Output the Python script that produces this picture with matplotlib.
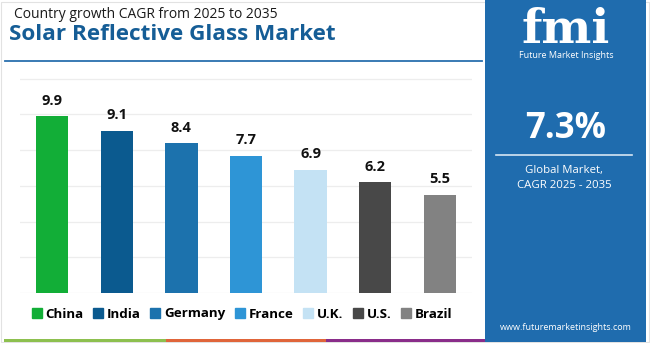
import matplotlib
matplotlib.use("Agg")
import matplotlib.pyplot as plt
from matplotlib.patches import Rectangle
from matplotlib.lines import Line2D

countries = ["China", "India", "Germany", "France", "U.K.", "U.S.", "Brazil"]
cagr = [9.9, 9.1, 8.4, 7.7, 6.9, 6.2, 5.5]
colors = ["#12AE37", "#0B5A8F", "#1C72AD", "#2E95D6", "#C4E2F4", "#484848", "#828282"]
global_cagr = "7.3%"

plt.rcParams['font.family'] = ['Open Sans', 'DejaVu Sans']

W, H = 650, 343
fig = plt.figure(figsize=(6.5, 3.43), dpi=100)
fig.patch.set_facecolor("white")

def fx(x): return x / W
def fy(y): return 1 - y / H

# light border
fig.add_artist(Rectangle((fx(1), fy(342)), fx(648), 340 / H, transform=fig.transFigure,
                         fill=False, edgecolor="#E2E2E2", lw=0.8))

ax = fig.add_axes([fx(20), fy(293), fx(452), 216 / H])
x = range(len(countries))
bars = ax.bar(x, cagr, width=0.5, color=colors, zorder=3)
ax.set_xlim(-0.5, 6.5)
ax.set_ylim(0, 12.1)
ax.set_yticks([0, 2, 4, 6, 8, 10, 12])
ax.grid(axis="y", color="#EDEDED", lw=0.9, zorder=0)
ax.set_xticks([])
ax.tick_params(left=False, labelleft=False)
for s in ax.spines.values():
    s.set_visible(False)
for xi, v in zip(x, cagr):
    ax.annotate(f"{v}", (xi, v), xytext=(0, 6), textcoords="offset points",
                ha="center", va="bottom", fontsize=10.5, fontweight="bold", color="#111111")

# legend
handles = [Line2D([], [], marker="s", ls="none", markersize=6.5, color=c) for c in colors]
leg = fig.legend(handles, countries, loc="center", bbox_to_anchor=(fx(242), fy(314)),
                 ncol=7, frameon=False, handlelength=0.7, handletextpad=0.3,
                 columnspacing=0.75, prop={"weight": "bold", "size": 9.6})

# titles
fig.text(fx(14), fy(15), "Country growth CAGR from 2025 to 2035", fontsize=10,
         color="#1A1A1A", va="center", ha="left")
fig.text(fx(9), fy(34), "Solar Reflective Glass Market", fontsize=16.2,
         fontweight="bold", color="#155D96", va="center", ha="left")

# blue top line
fig.add_artist(Line2D([fx(5), fx(482)], [fy(61), fy(61)], transform=fig.transFigure,
                      color="#2A6FAE", lw=1.3))

# bottom color strip
for x0, x1, c in [(4, 166, "#8DC04F"), (166, 326, "#E0653A"), (326, 487, "#8A2D8A")]:
    fig.add_artist(Rectangle((fx(x0), fy(342)), fx(x1 - x0), 3 / H,
                             transform=fig.transFigure, color=c, lw=0))

# right panel
fig.add_artist(Rectangle((fx(485), fy(342)), fx(161), 342 / H,
                         transform=fig.transFigure, color="#1F6CAE", lw=0))
fig.text(fx(566), fy(30), "fmi", fontsize=34, fontweight="bold", color="white",
         ha="center", va="center", family="DejaVu Serif")
fig.text(fx(566), fy(56), "Future Market Insights", fontsize=6.5, color="white",
         ha="center", va="center")
fig.text(fx(566), fy(129), global_cagr, fontsize=25, fontweight="bold", color="white",
         ha="center", va="center")
fig.add_artist(Line2D([fx(496), fx(632)], [fy(155), fy(155)], transform=fig.transFigure,
                      color="#D6E6F3", lw=1.2))
fig.text(fx(564), fy(171), "Global Market,", fontsize=8.2, color="white", ha="center", va="center")
fig.text(fx(564), fy(185), "CAGR 2025 - 2035", fontsize=8.2, color="white", ha="center", va="center")
fig.text(fx(566), fy(328), "www.futuremarketinsights.com", fontsize=6.5, color="white",
         ha="center", va="center")

fig.savefig("out.png", dpi=100, facecolor="white")
